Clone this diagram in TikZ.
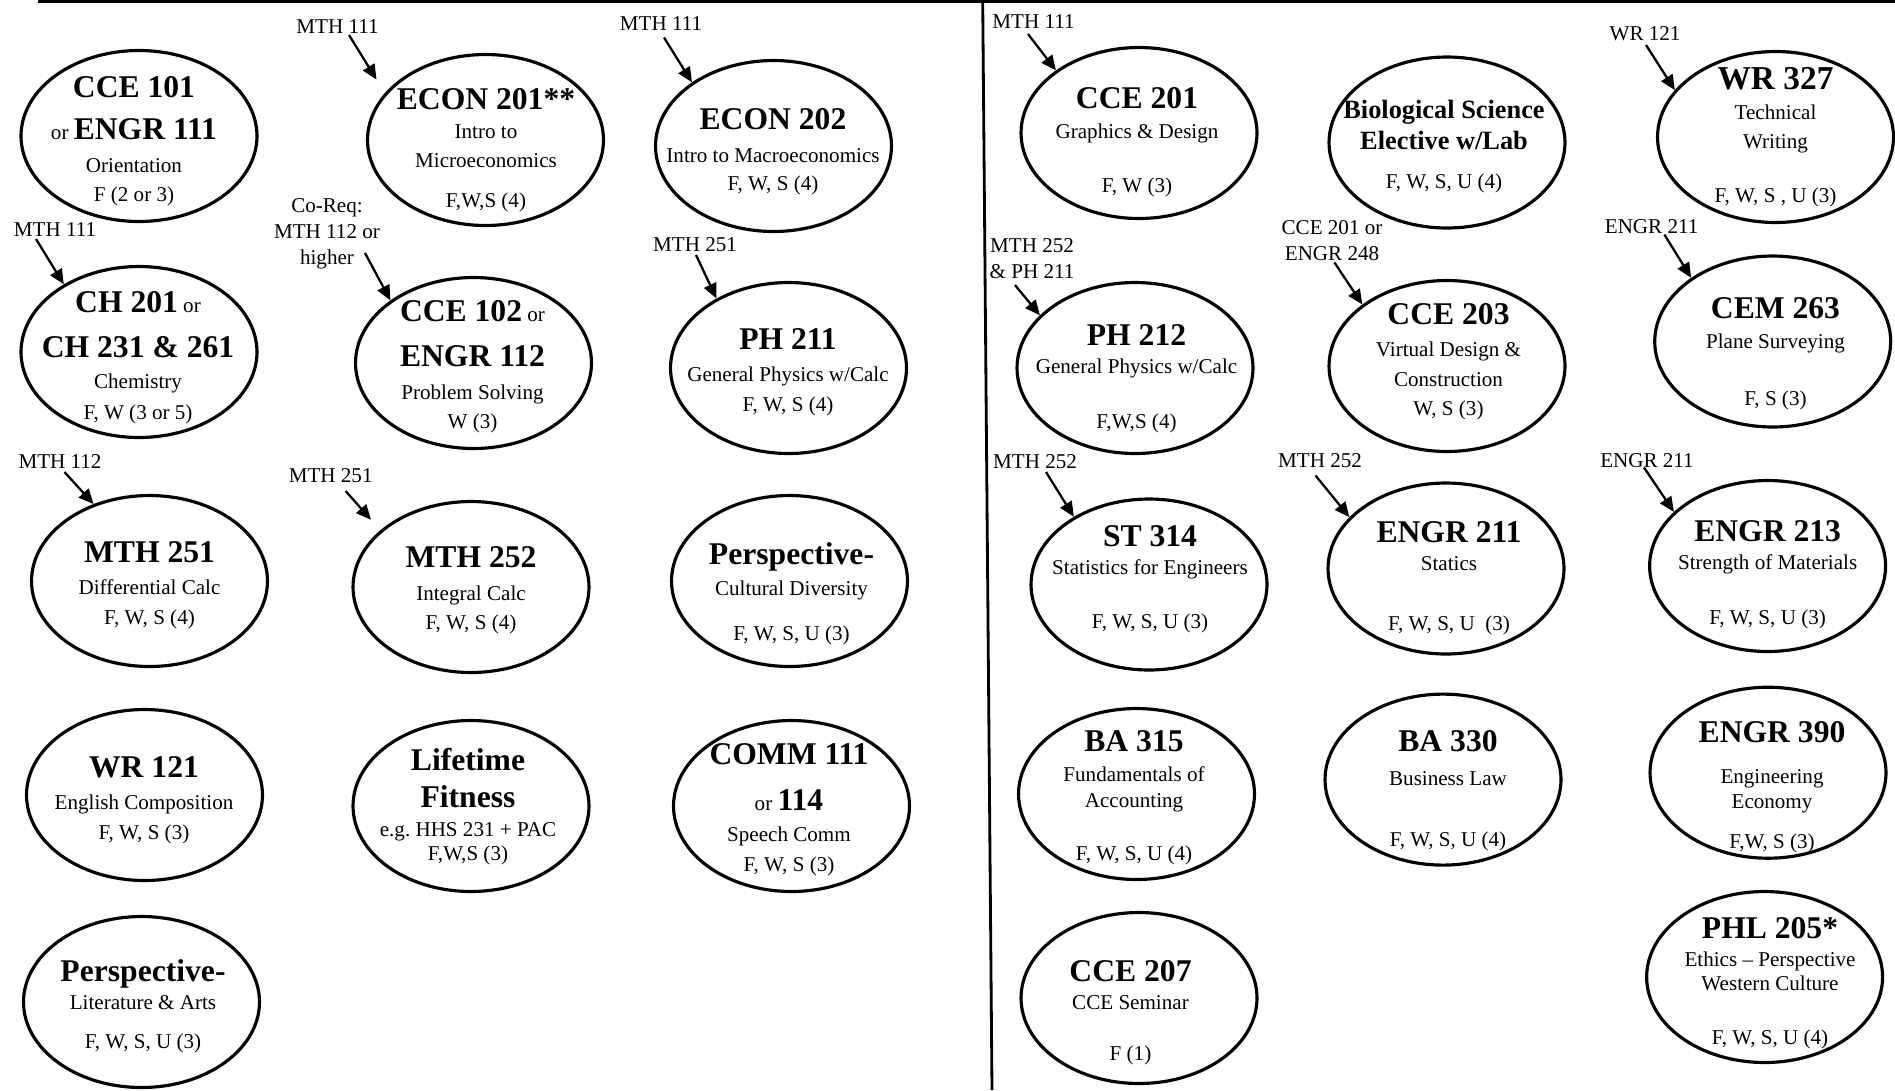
\documentclass[tikz,border=0pt]{standalone}
\usepackage{fontspec}
\setmainfont{Liberation Serif}
\usetikzlibrary{shapes.geometric,arrows.meta}
\newcommand\ctitle[2][18]{{\fontsize{#1}{#1}\selectfont\bfseries #2}}

\begin{document}
\begin{tikzpicture}[x=0.02cm, y=-0.02cm,
  course/.style={ellipse, draw, line width=1.8pt, minimum width=4.72cm, minimum height=3.42cm, inner sep=0pt},
  ctext/.style={align=center, inner sep=0pt, font=\fontsize{12}{16}\selectfont},
  prereq/.style={align=center, inner sep=0pt, font=\fontsize{12}{14.8}\selectfont},
  req/.style={line width=1.3pt, -{Triangle[length=8.5pt,width=7.5pt]}}]
\useasboundingbox (0,0) rectangle (1895,1090);
\draw[line width=1.7pt] (38,1.5) -- (1895,1.5);
\draw[line width=1.6pt] (982.7,0) -- (992,1090);
% course ellipses
\foreach \nm/\x/\y in {cce101/139/136, econA/485.5/140, econB/773.5/146,
  ch201/139/352, cce102/473.5/363, ph211/788.5/368,
  mth251/149.5/581, mth252/471/587, perspA/789.5/581,
  wr121/144.5/795, fitness/471/806, comm/791.5/806, perspB/141.5/1002,
  cce201/1139/133, bio/1447/142.5, wr327/1775.5/137,
  ph212/1135/368, cce203/1447/366, cem263/1772.7/341.5,
  st314/1149/584.5, engrA/1446/568.5, engrB/1767.6/566,
  ba315/1136.5/794, ba330/1443/779.6, engrC/1768/772.7,
  cce207/1139/998, phl205/1764.6/977}
  \node[course] (\nm) at (\x,\y) {};
% course texts
\node[ctext] (cce101-t) at (134,141) {\ctitle{CCE 101}\\[8pt]or \ctitle{ENGR 111}\\[3pt]Orientation\\[0.5pt]F (2 or 3)};
\node[ctext] (econA-t) at (486,150) {\ctitle{ECON 201**}\\[1pt]Intro to\\Microeconomics\\[7pt]F,W,S (4)};
\node[ctext] (econB-t) at (773,152) {\ctitle{ECON 202}\\[2.5pt]Intro to Macroeconomics\\F, W, S (4)};
\node[ctext] (ch201-t) at (138,357.5) {\ctitle{CH 201} or\\[9.5pt]\ctitle{CH 231 \& 261}\\[2pt]Chemistry\\[1.5pt]F, W (3 or 5)};
\node[ctext] (cce102-t) at (472.5,366.5) {\ctitle{CCE 102} or\\[9.5pt]\ctitle{ENGR 112}\\[3pt]Problem Solving\\[0.5pt]W (3)};
\node[ctext] (ph211-t) at (788,372) {\ctitle{PH 211}\\[2.5pt]General Physics w/Calc\\[1pt]F, W, S (4)};
\node[ctext] (mth251-t) at (149.5,585) {\ctitle{MTH 251}\\[2.5pt]Differential Calc\\[1pt]F, W, S (4)};
\node[ctext] (mth252-t) at (471,590) {\ctitle{MTH 252}\\[3pt]Integral Calc\\[0.5pt]F, W, S (4)};
\node[ctext] (perspA-t) at (791.5,593.6) {\ctitle{Perspective-}\\[2pt]Cultural Diversity\\[9.5pt]F, W, S, U (3)};
\node[ctext] (wr121-t) at (144,800.5) {\ctitle{WR 121}\\[2pt]English Composition\\[1.5pt]F, W, S (3)};
\node[ctext] (fitness-t) at (468,806.5) {\ctitle{Lifetime}\\[5.5pt]\ctitle{Fitness}\\e.g.\ HHS 231 + PAC\\[-2pt]F,W,S (3)};
\node[ctext] (comm-t) at (789,810) {\ctitle{COMM 111}\\[10pt]or \ctitle{114}\\[1.5pt]Speech Comm\\[1.5pt]F, W, S (3)};
\node[ctext] (perspB-t) at (143,1006.5) {\ctitle{Perspective-}\\Literature \& Arts\\[6pt]F, W, S, U (3)};
\node[ctext] (cce201-t) at (1137,142) {\ctitle{CCE 201}\\[1.5pt]Graphics \& Design\\[14.5pt]F, W (3)};
\node[ctext] (bio-t) at (1444,146.5) {\ctitle[15]{Biological Science}\\[2pt]\ctitle[15]{Elective w/Lab}\\[6pt]F, W, S, U (4)};
\node[ctext] (wr327-t) at (1775.5,137) {\ctitle[19]{WR 327}\\[1.5pt]Technical\\Writing\\[15pt]F, W, S , U (3)};
\node[ctext] (ph212-t) at (1136.5,378.5) {\ctitle{PH 212}\\General Physics w/Calc\\[15pt]F,W,S (4)};
\node[ctext] (cce203-t) at (1448.5,362) {\ctitle{CCE 203}\\[2pt]Virtual Design \&\\[1pt]Construction\\[1pt]W, S (3)};
\node[ctext] (cem263-t) at (1775.5,354) {\ctitle{CEM 263}\\[1pt]Plane Surveying\\[16.5pt]F, S (3)};
\node[ctext] (st314-t) at (1150,579) {\ctitle{ST 314}\\Statistics for Engineers\\[14.5pt]F, W, S, U (3)};
\node[ctext] (engrA-t) at (1449,578) {\ctitle{ENGR 211}\\Statics\\[18pt]F, W, S, U\ \ (3)};
\node[ctext] (engrB-t) at (1767.6,575) {\ctitle{ENGR 213}\\[-0.5pt]Strength of Materials\\[15.5pt]F, W, S, U (3)};
\node[ctext] (ba315-t) at (1134,797.5) {\ctitle{BA 315}\\[1pt]Fundamentals of\\[-1pt]Accounting\\[14pt]F, W, S, U (4)};
\node[ctext] (ba330-t) at (1448,791) {\ctitle{BA 330}\\[3pt]Business Law\\[19pt]F, W, S, U (4)};
\node[ctext] (engrC-t) at (1772,787.5) {\ctitle{ENGR 390}\\[7.5pt]Engineering\\[-2pt]Economy\\[7pt]F,W, S (3)};
\node[ctext] (cce207-t) at (1130.5,1012.5) {\ctitle{CCE 207}\\CCE Seminar\\[13pt]F (1)};
\node[ctext] (phl205-t) at (1770,983) {\ctitle{PHL 205*}\\Ethics -- Perspective\\[-2pt]Western Culture\\[14.5pt]F, W, S, U (4)};
% prerequisites
\node[prereq] (pEconA) at (337.5,27) {MTH 111};
\node[prereq] (pEconB) at (661,24) {MTH 111};
\node[prereq] (pCh) at (55,230) {MTH 111};
\node[prereq] (pCce102) at (327,234) {Co-Req:\\MTH 112 or\\higher};
\node[prereq] (pPh211) at (695,245) {MTH 251};
\node[prereq] (pMth251) at (60,462) {MTH 112};
\node[prereq] (pMth252) at (330.7,476) {MTH 251};
\node[prereq] (pCce201) at (1033.5,21.5) {MTH 111};
\node[prereq] (pPh212) at (1032,259) {MTH 252\\\& PH 211};
\node[prereq] (pCce203) at (1332,241) {CCE 201 or\\ENGR 248};
\node[prereq] (pWr327) at (1645,34) {WR 121};
\node[prereq] (pCem263) at (1651.6,226.6) {ENGR 211};
\node[prereq] (pSt314) at (1035,461.6) {MTH 252};
\node[prereq] (pEngrA) at (1320,460.5) {MTH 252};
\node[prereq] (pEngrB) at (1647,460.5) {ENGR 211};
\foreach \p/\dx/\dy/\c/\a/\g in {pEconA/11.5/8/econA/155/9pt, pEconB/3/13.5/econB/142/0pt,
  pCh/-19/9/ch201/138/0pt, pCce102/38/19/cce102/143/0pt, pPh211/1/10/ph211/136/0pt,
  pMth251/4.5/10/mth251/126/0pt, pMth252/15/15/mth252/148/8pt, pCce201/-5.5/12.5/cce201/143/0pt,
  pPh212/-17/26/ph212/151/0pt, pCce203/2.4/21.4/cce203/144/0pt, pWr327/1/11/wr327/155/0pt,
  pCem263/12.8/8/cem263/142/0pt, pSt314/11/10.4/st314/138/0pt, pEngrA/-4.5/15/engrA/152/0pt,
  pEngrB/-3/7/engrB/150/0pt}
  \draw[req, shorten >=\g] ([shift={(\dx,\dy)}]\p.center) -- (\c.\a);
\end{tikzpicture}
\end{document}
